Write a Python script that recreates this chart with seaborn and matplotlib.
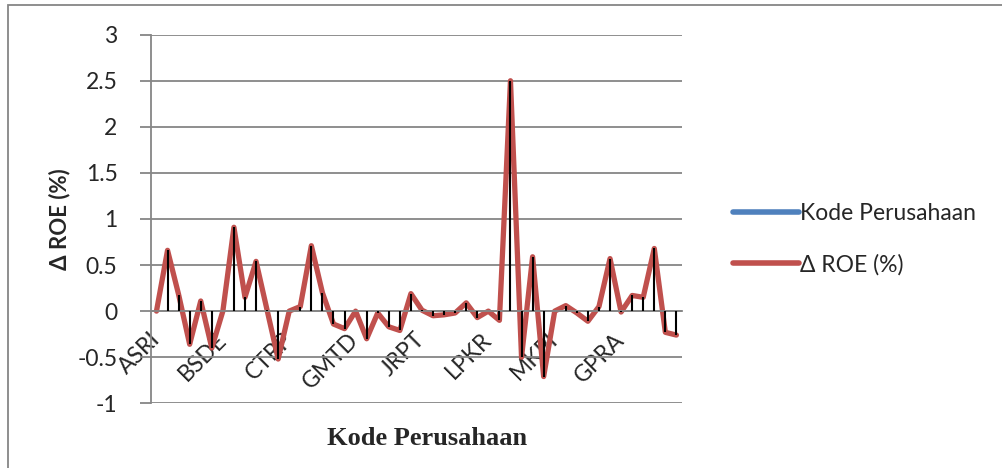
import numpy as np
import pandas as pd
import matplotlib
matplotlib.use("Agg")
import matplotlib.pyplot as plt
import seaborn as sns
from matplotlib.patches import Rectangle
from matplotlib.ticker import FuncFormatter

# company codes (only every 6th one is shown on the axis)
kode = ['ASRI', 'BAPA', 'BCIP', 'BEST', 'BIPP', 'BKSL',
        'BSDE', 'COWL', 'CTRA', 'CTRS', 'DART', 'DILD',
        'CTRP', 'DUTI', 'ELTY', 'EMDE', 'FMII', 'GAMA',
        'GMTD', 'GWSA', 'JIHD', 'KIJA', 'LAMI', 'LCGP',
        'JRPT', 'LPCK', 'MDLN', 'MTLA', 'MTSM', 'NIRO',
        'LPKR', 'OMRE', 'PLIN', 'PUDP', 'PWON', 'RBMS',
        'MKPI', 'RDTX', 'RODA', 'SCBD', 'SMDM', 'SMRA',
        'GPRA', 'TARA', 'APLN', 'BKDP', 'MMLP', 'PPRO']

delta_roe = [0.00, 0.66, 0.18, -0.36, 0.11, -0.40,
             0.00, 0.91, 0.15, 0.54, 0.01, -0.52,
             0.00, 0.05, 0.71, 0.20, -0.14, -0.19,
             0.00, -0.30, -0.02, -0.17, -0.21, 0.19,
             0.01, -0.05, -0.04, -0.02, 0.09, -0.07,
             0.00, -0.10, 2.50, -0.50, 0.59, -0.71,
             0.00, 0.06, -0.02, -0.11, 0.05, 0.57,
             -0.01, 0.17, 0.15, 0.68, -0.23, -0.26]

red = '#C0504D'
blue = '#4F81BD'
grey = '#868686'

sns.set_style("white")
plt.rcParams['font.family'] = ['Lato', 'DejaVu Sans']
plt.rcParams['axes.unicode_minus'] = False

df = pd.DataFrame({'kode': kode, 'roe': delta_roe})
df['pos'] = np.arange(len(df))

fig = plt.figure(figsize=(10.03, 4.68), dpi=100)
ax = fig.add_axes([0.1505, 0.1383, 0.5294, 0.7876])

sns.lineplot(data=df, x='pos', y='roe', color=red, linewidth=3.8,
             ax=ax, legend=False, zorder=2)
ax.lines[-1].set_solid_joinstyle('round')
ax.lines[-1].set_solid_capstyle('round')
ax.vlines(df['pos'], 0, df['roe'], colors='black', linewidth=1.5, zorder=3)

ax.set_xlim(-0.5, len(df) - 0.5)
ax.set_ylim(-1, 3)
ax.set_yticks(np.arange(-1, 3.01, 0.5))
ax.yaxis.set_major_formatter(FuncFormatter(lambda v, p: '%g' % v))
ax.yaxis.grid(True, color=grey, linewidth=1.3)
ax.set_axisbelow(True)

for s in ['top', 'right']:
    ax.spines[s].set_visible(False)
ax.spines['left'].set_color(grey)
ax.spines['left'].set_linewidth(1.3)
ax.spines['bottom'].set_position(('data', 0))
ax.spines['bottom'].set_color(grey)
ax.spines['bottom'].set_linewidth(1.3)

ax.tick_params(axis='y', left=True, length=8, width=1.3, color=grey,
               pad=16, labelsize=16.5)
ax.set_xticks(df['pos'][::6])
ax.set_xticklabels(df['kode'][::6], rotation=45, ha='right', va='center',
                   rotation_mode='anchor')
ax.tick_params(axis='x', bottom=True, length=0, pad=18, labelsize=16.5)

ax.set_ylabel('\u0394 ROE (%)', fontsize=16, fontweight='bold')
ax.yaxis.set_label_coords(-0.152, 0.5)
ax.set_xlabel('Kode Perusahaan', fontsize=19, fontweight='bold',
              family=['Liberation Serif', 'DejaVu Serif'])
ax.xaxis.set_label_coords(0.52, -0.065)

# legend: the blue series has no visible data
h1, = ax.plot([], [], color=blue, linewidth=4, solid_capstyle='round')
h2, = ax.plot([], [], color=red, linewidth=4, solid_capstyle='round')
fig.legend([h1, h2], ['Kode Perusahaan', '\u0394 ROE (%)'],
           loc='center left', bbox_to_anchor=(0.71, 0.489), frameon=False,
           fontsize=16.5, handlelength=2.9, handletextpad=0.05,
           labelspacing=1.3)

fig.patches.append(Rectangle((8 / 1003, -0.1), 1.2, 1.1 - 5 / 468,
                             transform=fig.transFigure, fill=False,
                             edgecolor=grey, linewidth=1.3))

fig.savefig('out.png', dpi=100)
